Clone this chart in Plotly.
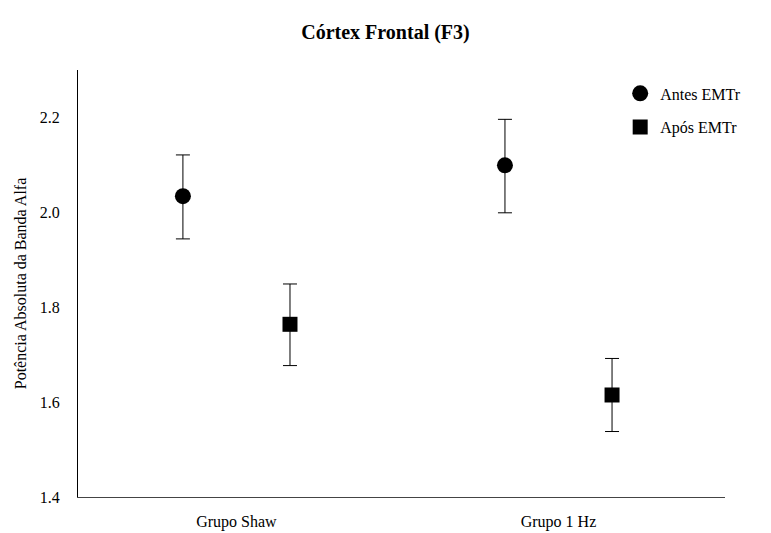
import plotly.graph_objects as go

groups = ["Grupo Shaw", "Grupo 1 Hz"]
antes = [2.034, 2.099]
antes_up = [0.087, 0.097]
antes_down = [0.090, 0.100]
apos = [1.764, 1.615]
apos_up = [0.085, 0.077]
apos_down = [0.087, 0.077]
series_names = ["Antes EMTr", "Após EMTr"]
y_ticks = [1.4, 1.6, 1.8, 2.0, 2.2]

font = "Liberation Serif"

fig = go.Figure()
fig.add_trace(go.Scatter(
    x=groups, y=antes, mode="markers", name=series_names[0], legendgroup="a",
    marker=dict(symbol="circle", size=16, color="black"),
    error_y=dict(type="data", array=antes_up, arrayminus=antes_down, color="black", thickness=1, width=7),
))
fig.add_trace(go.Scatter(
    x=groups, y=apos, mode="markers", name=series_names[1], legendgroup="b",
    marker=dict(symbol="square", size=15, color="black"),
    error_y=dict(type="data", array=apos_up, arrayminus=apos_down, color="black", thickness=1, width=7),
))

fig.update_layout(
    width=771, height=533,
    margin=dict(l=78, r=46, t=70, b=36, autoexpand=False),
    paper_bgcolor="white", plot_bgcolor="white",
    font=dict(family=font, color="black", size=16),
    title=dict(text="<b>Córtex Frontal (F3)</b>", x=0.5, xanchor="center", y=0.94, yanchor="middle",
               font=dict(family=font, size=20, color="black")),
    scattermode="group", scattergap=0.335,
    showlegend=True,
    legend=dict(x=0.838, y=0.985, xanchor="left", yanchor="top", traceorder="grouped",
                tracegroupgap=10, font=dict(family=font, size=16), bgcolor="rgba(0,0,0,0)"),
    xaxis=dict(type="category", range=[-0.492, 1.517], showline=True, linecolor="#444", linewidth=1,
               showgrid=False, zeroline=False, ticks="", tickfont=dict(family=font, size=16),
               ticklabelstandoff=10, automargin=False),
    yaxis=dict(range=[1.4, 2.3], tickvals=y_ticks, ticktext=[f"{v:.1f}" for v in y_ticks],
               showline=True, linecolor="black", linewidth=1, showgrid=False, zeroline=False,
               ticks="", ticklabelstandoff=14, tickfont=dict(family=font, size=16), automargin=False,
               title=dict(text="Potência Absoluta da Banda Alfa", font=dict(family=font, size=16), standoff=9)),
)

fig.write_html("out.html", post_script="document.body.style.margin='0';",
               config={"displayModeBar": False})
